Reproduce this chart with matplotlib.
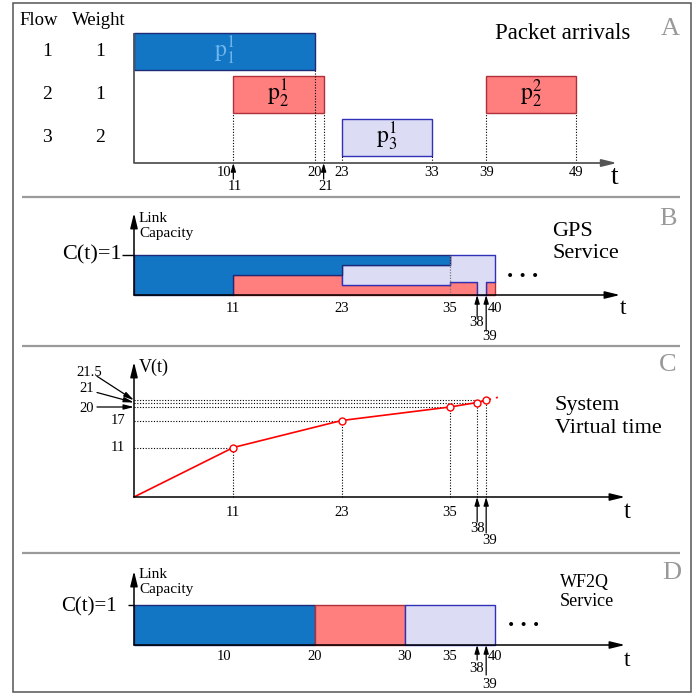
import matplotlib.pyplot as plt
from matplotlib.patches import Rectangle

plt.rcParams['font.family'] = 'Liberation Serif'
plt.rcParams['mathtext.fontset'] = 'stix'

W, H = 697, 694
X0, SX = 134, 9.03          # pixel of t=0, pixels per time unit

# --- panel A: packet arrivals ---
flows = [1, 2, 3]
weights = [1, 1, 2]
pkt_flow = [1, 2, 3, 2]
pkt_start = [0, 11, 23, 39]
pkt_end = [20, 21, 33, 49]
pkt_name = [r'$\mathrm{p}_1^1$', r'$\mathrm{p}_2^1$', r'$\mathrm{p}_3^1$', r'$\mathrm{p}_2^2$']
a_ticks = [10, 20, 23, 33, 39, 49]
a_arrows = [11, 21]

# --- panel B: GPS service (rate of each flow between edges) ---
gps_edges = [0, 11, 23, 35, 38, 39, 40]
gps_rate1 = [1, 1/2, 1/4, 0, 0, 0]
gps_rate2 = [0, 1/2, 1/4, 1/3, 0, 1/3]
gps_rate3 = [0, 0, 1/2, 2/3, 1, 2/3]
b_ticks = [11, 23, 35, 40]
b_arrows = [38, 39]

# --- panel C: system virtual time ---
vt_t = [0, 11, 23, 35, 38, 39]
vt_v = [0, 11, 17, 20, 21, 21.5]
c_ticks = [11, 23, 35]
c_arrows = [38, 39]
c_ylabels = [11, 17]
c_callouts = [20, 21, 21.5]

# --- panel D: WF2Q service ---
wf_flow = [1, 2, 3]
wf_start = [0, 20, 30]
wf_end = [20, 30, 40]
d_ticks = [10, 20, 30, 35, 40]
d_arrows = [38, 39]

face = {1: '#1276C4', 2: '#FF7F7F', 3: '#DCDCF5'}
edge = {1: '#1E2A78', 2: '#B0303A', 3: '#3030B8'}


def tx(px):
    return (px - X0) / SX


fig = plt.figure(figsize=(W / 100, H / 100), dpi=100)
bg = fig.add_axes([0, 0, 1, 1])
bg.set_xlim(0, W)
bg.set_ylim(H, 0)
bg.axis('off')
bg.add_patch(Rectangle((13, 3), 678, 689, fill=False, ec='#555555', lw=1.1))
bg.hlines([197, 346, 553], 22, 680, color='#9a9a9a', lw=1.6)


def panel(y0, sy):
    ax = fig.add_axes([0, 0, 1, 1], facecolor='none')
    ax.set_xlim(-X0 / SX, (W - X0) / SX)
    ax.set_ylim((y0 - H) / sy, y0 / sy)
    ax.axis('off')
    return ax


def arrow(ax, start, end, color='black', lw=1.1, hl=0.9, hw=0.22):
    ax.annotate('', xy=end, xytext=start,
                arrowprops=dict(arrowstyle=f'-|>,head_length={hl},head_width={hw}',
                                color=color, lw=lw, shrinkA=0, shrinkB=0))


def up_arrow(ax, t, dy):
    ax.annotate('', xy=(t, 0), xytext=(0, dy), textcoords='offset pixels',
                arrowprops=dict(arrowstyle='-|>,head_length=0.5,head_width=0.15',
                                color='black', lw=0.9, shrinkA=0, shrinkB=0))


def tlabel(ax, t, txt, dy, dx=0, size=10.5):
    ax.annotate(txt, xy=(t, 0), xytext=(dx, dy), textcoords='offset pixels',
                ha='center', va='center', fontsize=size)


dot = dict(color='black', lw=0.8, linestyle=(0, (1, 1.5)))

# ---------------- A ----------------
axA = panel(163, 43)
lane = [3.6 - f for f in pkt_flow]
axA.barh(lane, [e - s for s, e in zip(pkt_start, pkt_end)], left=pkt_start, height=0.86,
         color=[face[f] for f in pkt_flow], edgecolor=[edge[f] for f in pkt_flow], lw=1.0, zorder=2)
for s, e, y, f, name in zip(pkt_start, pkt_end, lane, pkt_flow, pkt_name):
    axA.text((s + e) / 2, y, name, ha='center', va='center', fontsize=17,
             color='#6FB6EE' if f == 1 else 'black', zorder=3)
    for t in (s, e):
        if t > 0:
            axA.vlines(t, 0, y - 0.43, **dot)
axA.vlines(0, 0, max(lane) + 0.43, color='#555555', lw=1.3)
arrow(axA, (0, 0), (tx(617), 0), color='#555555', lw=1.3)
for t in a_ticks:
    tlabel(axA, t, str(t), -10)
for t in a_arrows:
    up_arrow(axA, t, -16)
    tlabel(axA, t, str(t), -24, dx=2)
for f, w in zip(flows, weights):
    axA.text(tx(47), 3.6 - f, str(f), ha='center', va='center', fontsize=14)
    axA.text(tx(100), 3.6 - f, str(w), ha='center', va='center', fontsize=14)
axA.text(tx(615), -0.33, 't', ha='center', va='center', fontsize=20)
bg.text(39, 20, 'Flow', ha='center', va='center', fontsize=13.5)
bg.text(98.5, 20, 'Weight', ha='center', va='center', fontsize=13.5)
bg.text(563, 33, 'Packet arrivals', ha='center', va='center', fontsize=16.5)
bg.text(670, 29, 'A', ha='center', va='center', fontsize=19, color='#999999')

# ---------------- B ----------------
axB = panel(295, 40)
low2 = [0] * len(gps_rate2)
low3 = gps_rate2
low1 = [a + b for a, b in zip(gps_rate2, gps_rate3)]
for f, rate, low in ((2, gps_rate2, low2), (3, gps_rate3, low3), (1, gps_rate1, low1)):
    i = 0
    while i < len(rate):
        if rate[i] == 0:
            i += 1
            continue
        j = i
        while j < len(rate) and rate[j] > 0:
            j += 1
        lo = low[i:j] + [low[j - 1]]
        hi = [a + b for a, b in zip(low[i:j], rate[i:j])]
        hi = hi + [hi[-1]]
        axB.fill_between(gps_edges[i:j + 1], lo, hi, step='post', facecolor=face[f],
                         edgecolor=edge[f], lw=1.0, zorder=2)
        i = j
axB.vlines(35, 0, 1, color='#777777', lw=0.9, linestyle=(0, (1, 1.2)), zorder=3)
arrow(axB, (0, 0), (tx(620), 0))
arrow(axB, (0, 0), (0, 2.05))
axB.hlines(1, tx(122), 0, color='black', lw=1.0)
axB.text(tx(122), 1, 'C(t)=1', ha='right', va='center', fontsize=16)
for t in b_ticks:
    tlabel(axB, t, str(t), -13)
up_arrow(axB, b_arrows[0], -22)
tlabel(axB, b_arrows[0], str(b_arrows[0]), -28, dx=-1)
up_arrow(axB, b_arrows[1], -36)
tlabel(axB, b_arrows[1], str(b_arrows[1]), -41, dx=3)
axB.text(tx(623), -0.33, 't', ha='center', va='center', fontsize=17)
bg.text(139, 218, 'Link', ha='left', va='center', fontsize=11)
bg.text(139, 233, 'Capacity', ha='left', va='center', fontsize=11)
bg.text(523, 270, '. . .', ha='center', va='center', fontsize=18, fontweight='bold')
bg.text(552, 231, 'GPS', ha='left', va='center', fontsize=16)
bg.text(552, 253, 'Service', ha='left', va='center', fontsize=16)
bg.text(668, 219, 'B', ha='center', va='center', fontsize=19, color='#999999')

# ---------------- C ----------------
axC = panel(497, 4.5)
axC.hlines(vt_v[1:], 0, vt_t[1:], **dot)
axC.vlines(vt_t[1:], 0, vt_v[1:], **dot)
axC.plot(vt_t, vt_v, color='red', lw=1.2, zorder=3)
slope = (vt_v[-1] - vt_v[-2]) / (vt_t[-1] - vt_t[-2])
axC.plot([vt_t[-1], 40.3], [vt_v[-1], vt_v[-1] + slope * (40.3 - vt_t[-1])],
         color='red', lw=1.2, dashes=(3, 3), zorder=3)
axC.plot(vt_t[1:], vt_v[1:], 'o', ms=5, mfc='white', mec='red', mew=1.0, zorder=4)
arrow(axC, (0, 0), (tx(625), 0))
arrow(axC, (0, 0), (0, 30))
for t in c_ticks:
    tlabel(axC, t, str(t), -15)
up_arrow(axC, c_arrows[0], -25)
tlabel(axC, c_arrows[0], str(c_arrows[0]), -31)
up_arrow(axC, c_arrows[1], -36)
tlabel(axC, c_arrows[1], str(c_arrows[1]), -43, dx=3.5)
for v in c_ylabels:
    axC.annotate(str(v), xy=(0, v), xytext=(-9, 0), textcoords='offset pixels',
                 ha='right', va='center', fontsize=10.5)
callout_text = [(-47, -1), (-47, 14), (-45, 28)]
callout_tail = [(-37, 0), (-37, 10), (-37, 24)]
for v, (dx, dy), (ax_, ay_) in zip(c_callouts, callout_text, callout_tail):
    axC.annotate(f'{v:g}', xy=(0, v), xytext=(dx, dy), textcoords='offset pixels',
                 ha='center', va='center', fontsize=10.5)
    axC.annotate('', xy=(0, v), xytext=(ax_, ay_), textcoords='offset pixels',
                 arrowprops=dict(arrowstyle='-|>,head_length=0.6,head_width=0.15',
                                 color='black', lw=0.9, shrinkA=0, shrinkB=0))
axC.text(tx(627), -3.4, 't', ha='center', va='center', fontsize=18)
bg.text(139, 367, 'V(t)', ha='left', va='center', fontsize=13)
bg.text(555, 405, 'System', ha='left', va='center', fontsize=16)
bg.text(555, 428, 'Virtual time', ha='left', va='center', fontsize=16)
bg.text(668, 365, 'C', ha='center', va='center', fontsize=19, color='#999999')

# ---------------- D ----------------
axD = panel(645, 40)
axD.bar(wf_start, 1, width=[e - s for s, e in zip(wf_start, wf_end)], bottom=0, align='edge',
        color=[face[f] for f in wf_flow], edgecolor=[edge[f] for f in wf_flow], lw=1.0, zorder=2)
arrow(axD, (0, 0), (tx(625), 0))
arrow(axD, (0, 0), (0, 1.85))
axD.hlines(1, tx(128), 0, color='black', lw=1.0)
axD.text(tx(117), 0.95, 'C(t)=1', ha='right', va='center', fontsize=15)
for t in d_ticks:
    tlabel(axD, t, str(t), -11)
up_arrow(axD, d_arrows[0], -15)
tlabel(axD, d_arrows[0], str(d_arrows[0]), -23, dx=-1)
up_arrow(axD, d_arrows[1], -30)
tlabel(axD, d_arrows[1], str(d_arrows[1]), -39, dx=3.5)
axD.text(tx(627), -0.4, 't', ha='center', va='center', fontsize=17)
bg.text(139, 575, 'Link', ha='left', va='center', fontsize=11)
bg.text(139, 590, 'Capacity', ha='left', va='center', fontsize=11)
bg.text(524, 620, '. . .', ha='center', va='center', fontsize=18, fontweight='bold')
bg.text(560, 582, 'WF2Q', ha='left', va='center', fontsize=13)
bg.text(560, 602, 'Service', ha='left', va='center', fontsize=13)
bg.text(672, 573, 'D', ha='center', va='center', fontsize=19, color='#999999')

fig.savefig('out.png', dpi=100)
